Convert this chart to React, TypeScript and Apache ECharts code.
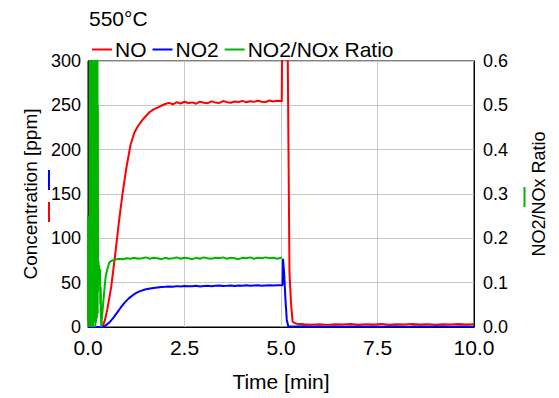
import React, { useEffect, useRef } from "react";
import * as echarts from "echarts";

const TITLE = "550°C";
const X_NAME = "Time [min]";
const Y_LEFT_NAME = "Concentration [ppm]";
const Y_RIGHT_NAME = "NO2/NOx Ratio";
const SERIES_NAMES = ["NO", "NO2", "NO2/NOx Ratio"];
const COLORS = ["#ff0000", "#0000ff", "#00b400"];

// NO concentration [ppm] vs time [min]
const NO_DATA: [number, number][] = [
  [0, 0], [0.1, 0], [0.2, 0], [0.3, 0], [0.38, 0.5], [0.44, 8], [0.5, 20], [0.6, 45], [0.7, 80],
  [0.8, 118], [0.9, 152], [1.0, 181], [1.1, 205], [1.2, 219], [1.3, 227], [1.4, 233], [1.5, 238],
  [1.6, 242.5], [1.7, 245.5], [1.8, 247.5], [1.9, 249.5],
  [2.0, 251.5], [2.1, 252.8], [2.2, 251.2], [2.3, 253.5], [2.4, 252.1], [2.5, 254.0], [2.6, 252.6],
  [2.7, 253.3], [2.8, 251.8], [2.9, 254.2], [3.0, 253.0], [3.1, 252.4], [3.2, 254.5], [3.3, 253.1],
  [3.4, 252.7], [3.5, 254.8], [3.6, 253.6], [3.7, 252.9], [3.8, 254.3], [3.9, 253.8], [4.0, 255.0],
  [4.1, 253.4], [4.2, 254.6], [4.3, 253.9], [4.4, 255.2], [4.5, 254.1], [4.6, 253.7], [4.7, 255.4],
  [4.8, 254.4], [4.9, 255.1], [5.0, 254.8],
  [5.02, 254], [5.03, 330], [5.17, 330], [5.22, 61], [5.26, 27], [5.3, 6], [5.35, 4.5],
  [5.4, 3.8], [5.6, 3.0], [5.8, 2.6], [6.0, 3.2], [6.2, 2.4], [6.4, 3.1], [6.6, 2.7], [6.8, 3.4],
  [7.0, 2.5], [7.2, 3.0], [7.4, 2.8], [7.6, 3.3], [7.8, 2.6], [8.0, 3.1], [8.2, 2.9], [8.4, 3.5],
  [8.6, 2.7], [8.8, 3.0], [9.0, 2.6], [9.2, 3.2], [9.4, 2.8], [9.6, 3.3], [9.8, 2.7], [10.0, 3.0],
];

// NO2 concentration [ppm] vs time [min]
const NO2_DATA: [number, number][] = [
  [0, 0], [0.1, 0], [0.2, 0], [0.3, 0], [0.38, 0], [0.45, 1.5], [0.55, 5], [0.65, 10], [0.75, 16],
  [0.85, 22], [0.95, 27.5], [1.05, 32], [1.15, 35.5], [1.25, 38.5], [1.35, 40.5], [1.5, 42.5],
  [1.65, 43.8], [1.8, 44.6], [1.9, 45.0],
  [2.0, 45.3], [2.1, 45.8], [2.2, 45.5], [2.3, 46.1], [2.4, 45.7], [2.5, 46.3], [2.6, 45.9],
  [2.7, 46.0], [2.8, 46.4], [2.9, 45.8], [3.0, 46.2], [3.1, 46.6], [3.2, 46.0], [3.3, 46.4],
  [3.4, 46.8], [3.5, 46.2], [3.6, 46.5], [3.7, 46.9], [3.8, 46.3], [3.9, 46.7], [4.0, 46.5],
  [4.1, 47.0], [4.2, 46.4], [4.3, 46.8], [4.4, 47.1], [4.5, 46.6], [4.6, 46.9], [4.7, 47.2],
  [4.8, 46.7], [4.9, 47.0], [5.0, 47.1],
  [5.04, 47.2], [5.05, 77], [5.08, 62], [5.11, 35], [5.15, 8], [5.19, 0.6],
  [5.4, 0.5], [5.6, 0.8], [5.8, 0.3], [6.0, 0.6], [6.2, 0.4], [6.4, 0.7], [6.6, 0.3], [6.8, 0.5],
  [7.0, 0.6], [7.2, 0.4], [7.4, 0.7], [7.6, 0.3], [7.8, 0.5], [8.0, 0.6], [8.2, 0.4], [8.4, 0.5],
  [8.6, 0.7], [8.8, 0.3], [9.0, 0.5], [9.2, 0.6], [9.4, 0.4], [9.6, 0.5], [9.8, 0.6], [10.0, 0.4],
];

// NO2/NOx ratio [-] vs time [min]
const RATIO_DATA: [number, number][] = [
  [0.0, 0.02], [0.005, 0.25], [0.01, 0.01], [0.015, 0.22], [0.02, 0.04], [0.025, 0.24], [0.03, 0.0],
  [0.035, 0.18], [0.04, 0.05], [0.045, 0.9], [0.05, 0.0], [0.055, 1.2], [0.06, 0.02], [0.065, 0.9],
  [0.07, 0.01], [0.075, 1.1], [0.08, 0.03], [0.085, 0.95], [0.09, 0.0], [0.095, 1.3], [0.1, 0.02],
  [0.105, 0.85], [0.11, 0.01], [0.115, 1.0], [0.12, 0.04], [0.125, 0.9], [0.13, 0.0], [0.135, 1.15],
  [0.14, 0.02], [0.145, 0.8], [0.15, 0.03], [0.155, 1.0], [0.16, 0.01], [0.165, 0.95], [0.17, 0.02],
  [0.175, 0.9], [0.18, 0.05], [0.185, 1.1], [0.19, 0.0], [0.195, 0.85], [0.2, 0.03], [0.205, 0.9],
  [0.21, 0.01], [0.215, 1.05], [0.22, 0.04], [0.225, 0.7], [0.23, 0.02], [0.235, 0.9], [0.24, 0.06],
  [0.245, 0.75], [0.25, 0.03], [0.255, 0.5], [0.26, 0.08], [0.265, 0.14], [0.27, 0.15], [0.28, 0.12],
  [0.29, 0.14], [0.3, 0.1], [0.31, 0.13], [0.32, 0.05], [0.33, 0.09], [0.34, 0.01], [0.35, 0.0],
  [0.36, 0.02], [0.38, 0.04], [0.4, 0.06], [0.43, 0.09], [0.46, 0.115], [0.5, 0.13], [0.55, 0.145],
  [0.6, 0.149], [0.7, 0.152], [0.8, 0.154], [0.9, 0.153], [1.0, 0.155], [1.1, 0.154], [1.2, 0.156],
  [1.3, 0.154], [1.4, 0.155], [1.5, 0.157], [1.6, 0.154], [1.7, 0.156], [1.8, 0.155], [1.9, 0.153],
  [2.0, 0.156], [2.1, 0.154], [2.2, 0.155], [2.3, 0.157], [2.4, 0.154], [2.5, 0.156], [2.6, 0.155],
  [2.7, 0.153], [2.8, 0.156], [2.9, 0.154], [3.0, 0.157], [3.1, 0.155], [3.2, 0.154], [3.3, 0.156],
  [3.4, 0.155], [3.5, 0.157], [3.6, 0.154], [3.7, 0.156], [3.8, 0.155], [3.9, 0.153], [4.0, 0.156],
  [4.1, 0.155], [4.2, 0.157], [4.3, 0.154], [4.4, 0.156], [4.5, 0.155], [4.6, 0.157], [4.7, 0.155],
  [4.8, 0.156], [4.9, 0.154], [5.0, 0.156], [5.02, 0.157],
];

const X_TICKS = { min: 0, max: 10, interval: 2.5 };
const Y_LEFT_TICKS = { min: 0, max: 300, interval: 50 };
const Y_RIGHT_TICKS = { min: 0, max: 0.6, interval: 0.1 };

const FONT = "'Liberation Sans', Arial, sans-serif";

export default function App() {
  const ref = useRef<HTMLDivElement>(null);
  useEffect(() => {
    if (!ref.current) return;
    const chart = echarts.init(ref.current, undefined, { renderer: "svg" });
    const axisLine = { show: true, lineStyle: { color: "#000", width: 1 } };
    chart.setOption({
      animation: false,
      backgroundColor: "#fff",
      textStyle: { fontFamily: FONT, color: "#000" },
      title: {
        text: TITLE,
        left: 89,
        top: 8,
        padding: 0,
        textStyle: { fontSize: 21, fontWeight: "normal", color: "#000", fontFamily: FONT },
      },
      legend: {
        left: 92,
        top: 39,
        padding: 0,
        icon: "rect",
        itemWidth: 20,
        itemHeight: 2,
        itemGap: 6,
        textStyle: { fontSize: 21, color: "#000", fontFamily: FONT, padding: [0, 0, 0, -2] },
        data: SERIES_NAMES,
      },
      grid: {
        left: 88,
        right: 85,
        top: 61,
        bottom: 71,
        show: true,
        borderColor: "#000",
        borderWidth: 1,
      },
      xAxis: {
        type: "value",
        ...X_TICKS,
        name: X_NAME,
        nameLocation: "middle",
        nameGap: 44,
        nameTextStyle: { fontSize: 21, color: "#000", fontFamily: FONT },
        axisLine,
        axisTick: { show: false },
        axisLabel: {
          fontSize: 21,
          color: "#000",
          margin: 10,
          formatter: (v: number) => v.toFixed(1),
        },
        splitLine: { show: true, lineStyle: { color: "#c8c8c8", width: 1 } },
      },
      yAxis: [
        {
          type: "value",
          ...Y_LEFT_TICKS,
          name: Y_LEFT_NAME,
          nameLocation: "middle",
          nameGap: 48,
          nameRotate: 90,
          nameTextStyle: { fontSize: 19, color: "#000", fontFamily: FONT },
          axisLine,
          axisTick: { show: false },
          axisLabel: { fontSize: 18, color: "#000", margin: 7 },
          splitLine: { show: true, lineStyle: { color: "#c8c8c8", width: 1 } },
        },
        {
          type: "value",
          position: "right",
          ...Y_RIGHT_TICKS,
          name: Y_RIGHT_NAME,
          nameLocation: "middle",
          nameGap: 56,
          nameRotate: 90,
          nameTextStyle: { fontSize: 18, color: "#000", fontFamily: FONT },
          axisLine,
          axisTick: { show: false },
          axisLabel: {
            fontSize: 18,
            color: "#000",
            margin: 9,
            formatter: (v: number) => v.toFixed(1),
          },
          splitLine: { show: false },
        },
      ],
      graphic: [
        { type: "line", shape: { x1: 49, y1: 170, x2: 49, y2: 190 }, style: { stroke: COLORS[1], lineWidth: 2 } },
        { type: "line", shape: { x1: 49, y1: 202, x2: 49, y2: 222 }, style: { stroke: COLORS[0], lineWidth: 2 } },
        { type: "line", shape: { x1: 524.5, y1: 187, x2: 524.5, y2: 207 }, style: { stroke: COLORS[2], lineWidth: 2 } },
      ],
      series: [
        {
          name: SERIES_NAMES[0],
          type: "line",
          yAxisIndex: 0,
          data: NO_DATA,
          symbol: "none",
          color: COLORS[0],
          lineStyle: { width: 2, color: COLORS[0] },
          clip: true,
        },
        {
          name: SERIES_NAMES[1],
          type: "line",
          yAxisIndex: 0,
          data: NO2_DATA,
          symbol: "none",
          color: COLORS[1],
          lineStyle: { width: 2, color: COLORS[1] },
          clip: true,
        },
        {
          name: SERIES_NAMES[2],
          type: "line",
          yAxisIndex: 1,
          data: RATIO_DATA,
          symbol: "none",
          color: COLORS[2],
          lineStyle: { width: 2, color: COLORS[2] },
          clip: true,
        },
      ],
    });
    return () => chart.dispose();
  }, []);
  return (
    <div
      ref={ref}
      style={{ position: "absolute", left: 0, top: 0, width: 559, height: 398 }}
    />
  );
}
